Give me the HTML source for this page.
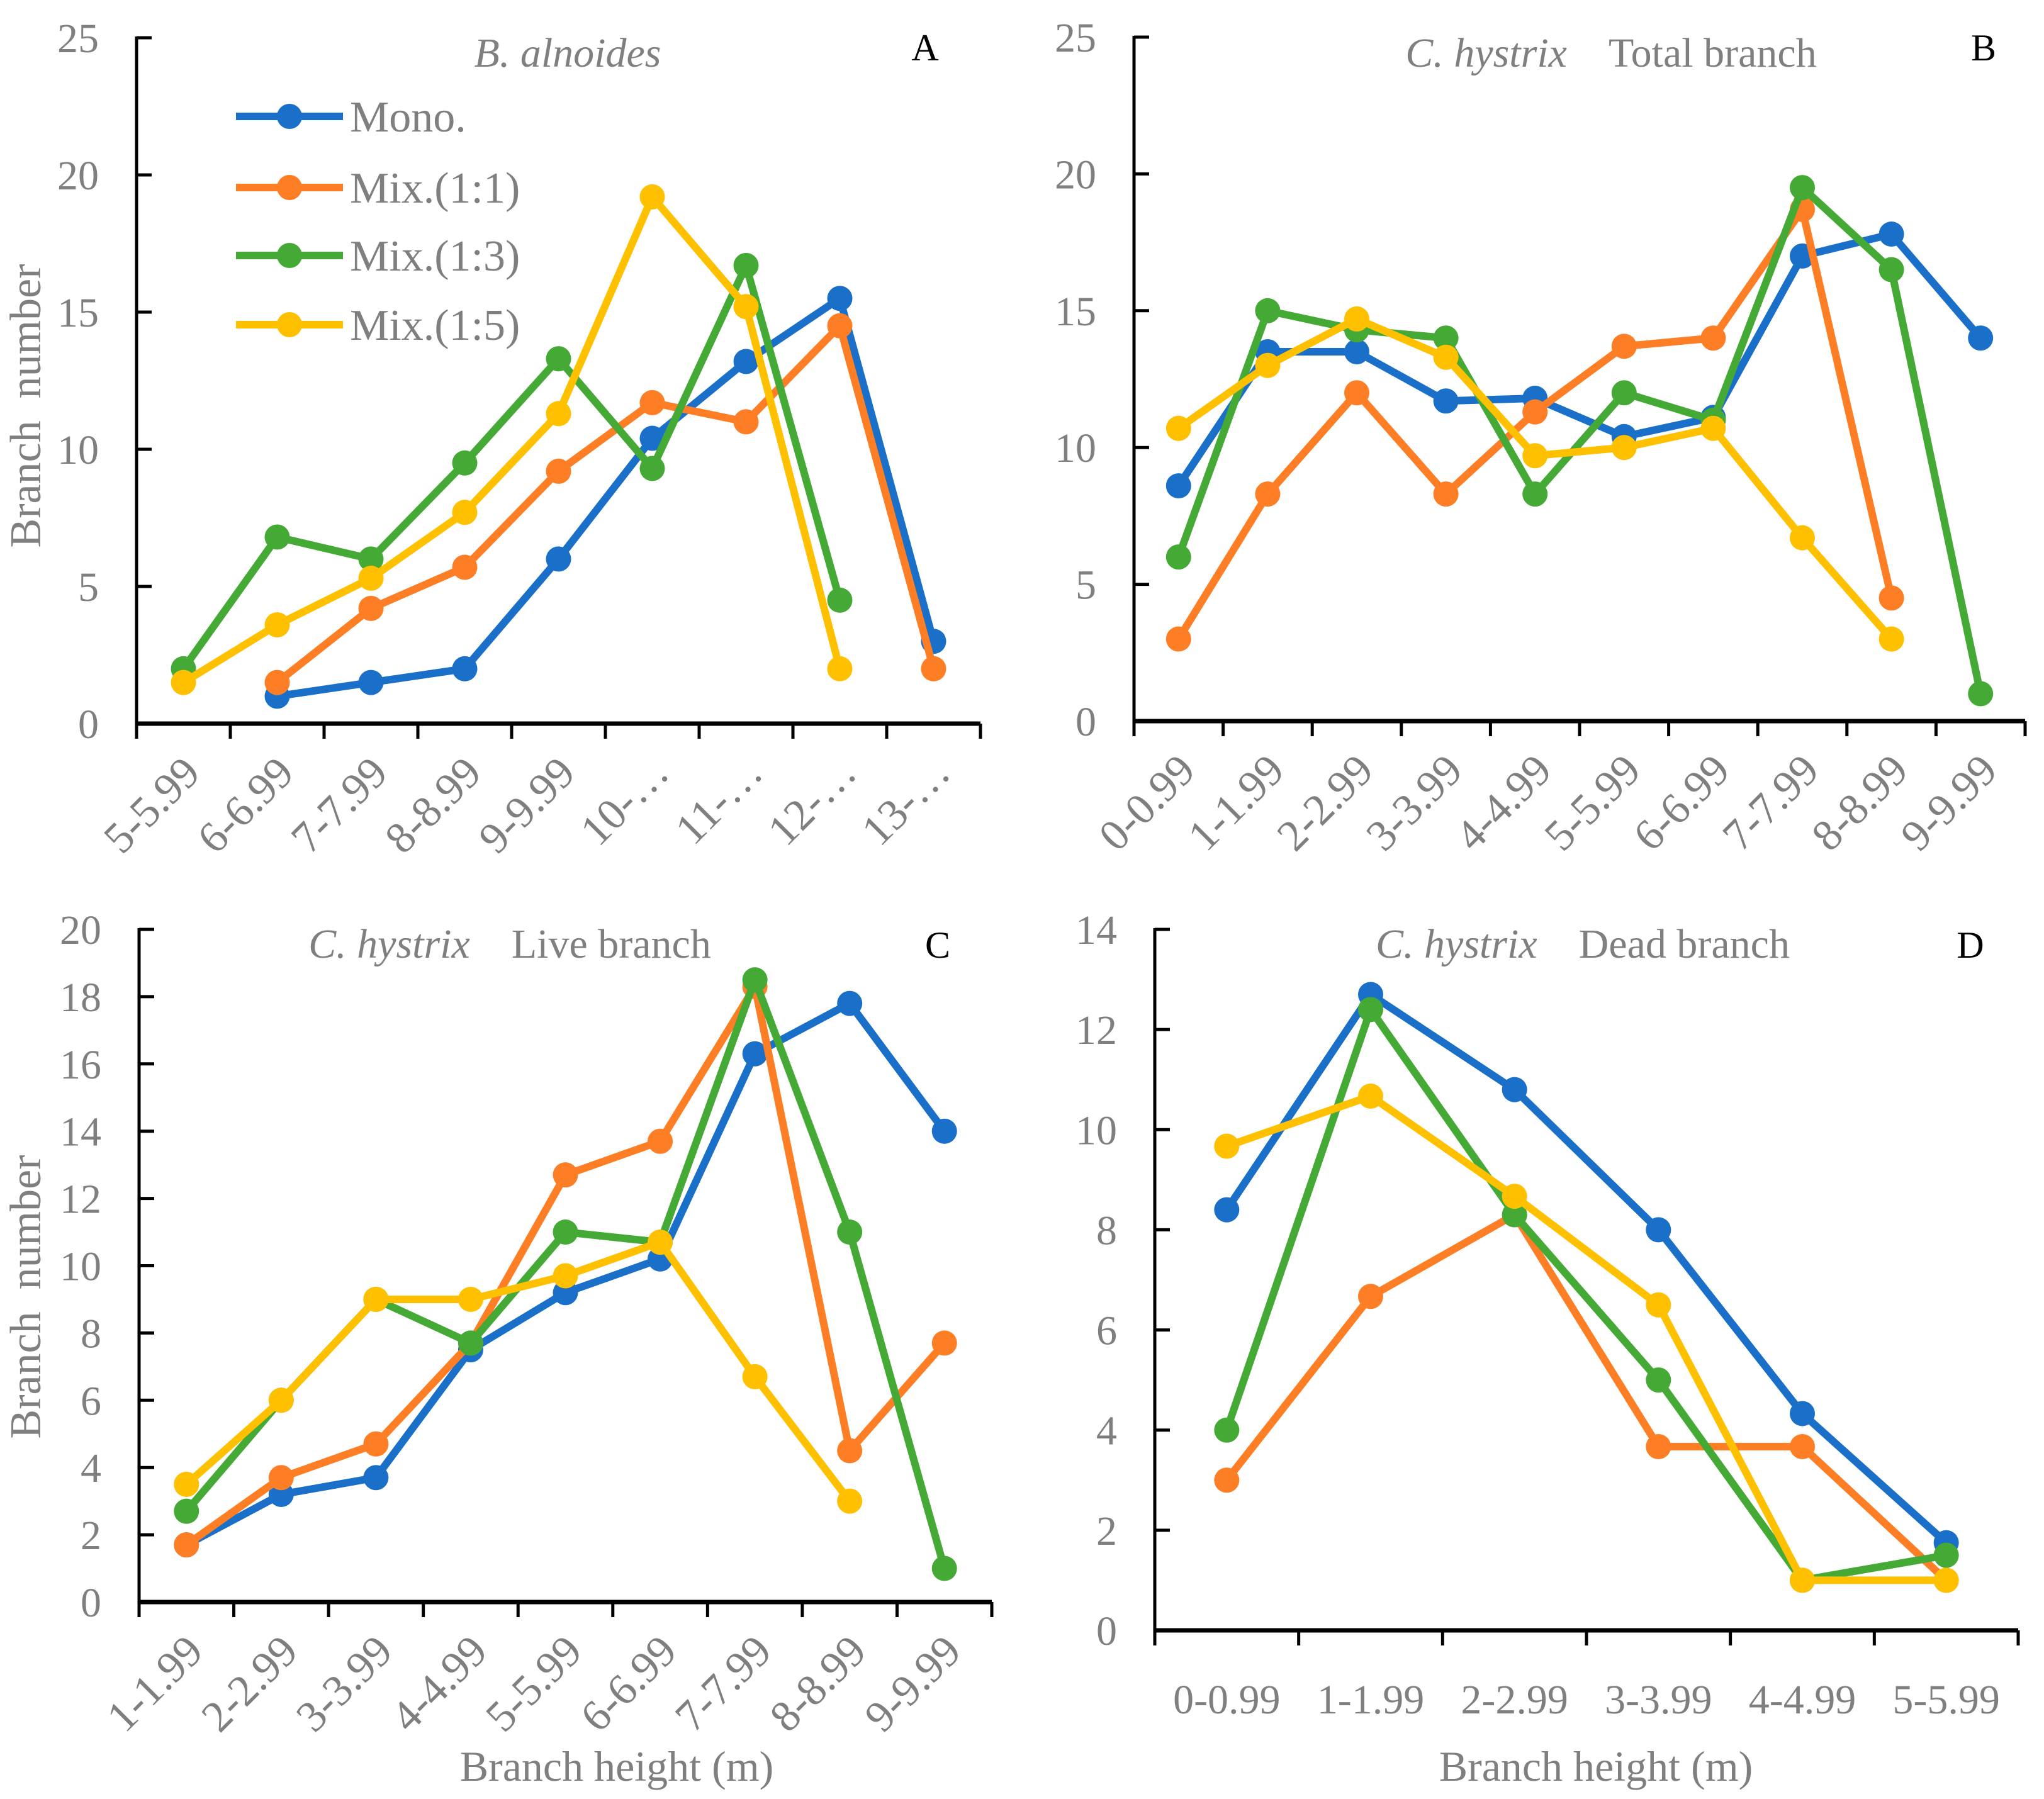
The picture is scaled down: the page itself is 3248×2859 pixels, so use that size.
<!DOCTYPE html>
<html><head><meta charset="utf-8"><style>
html,body{margin:0;padding:0;background:#fff}
svg{display:block}
text{font-family:"Liberation Serif",serif}
</style></head><body>
<svg id="fig" width="3248" height="2859" viewBox="0 0 3248 2859" xmlns="http://www.w3.org/2000/svg"></svg>
<script>
const seriesNames=["Mono.","Mix.(1:1)","Mix.(1:3)","Mix.(1:5)"];
const catsA=["5-5.99","6-6.99","7-7.99","8-8.99","9-9.99","10-…","11-…","12-…","13-…"];
const monoA=[null,1,1.5,2,6,10.4,13.2,15.5,3];
const mix11A=[null,1.5,4.2,5.7,9.2,11.7,11,14.5,2];
const mix13A=[2,6.8,6,9.5,13.3,9.3,16.7,4.5,null];
const mix15A=[1.5,3.6,5.3,7.7,11.3,19.2,15.2,2,null];
const ticksA=[0,5,10,15,20,25];
const catsB=["0-0.99","1-1.99","2-2.99","3-3.99","4-4.99","5-5.99","6-6.99","7-7.99","8-8.99","9-9.99"];
const monoB=[8.6,13.5,13.5,11.7,11.8,10.4,11.1,17,17.8,14];
const mix11B=[3,8.3,12,8.3,11.3,13.7,14,18.7,4.5,null];
const mix13B=[6,15,14.3,14,8.3,12,11,19.5,16.5,1];
const mix15B=[10.7,13,14.7,13.3,9.7,10,10.7,6.7,3,null];
const ticksB=[0,5,10,15,20,25];
const catsC=["1-1.99","2-2.99","3-3.99","4-4.99","5-5.99","6-6.99","7-7.99","8-8.99","9-9.99"];
const monoC=[1.7,3.2,3.7,7.5,9.2,10.2,16.3,17.8,14];
const mix11C=[1.7,3.7,4.7,7.7,12.7,13.7,18.3,4.5,7.7];
const mix13C=[2.7,6,9,7.7,11,10.7,18.5,11,1];
const mix15C=[3.5,6,9,9,9.7,10.7,6.7,3,null];
const ticksC=[0,2,4,6,8,10,12,14,16,18,20];
const catsD=["0-0.99","1-1.99","2-2.99","3-3.99","4-4.99","5-5.99"];
const monoD=[8.4,12.7,10.8,8,4.33,1.75];
const mix11D=[3,6.67,8.3,3.67,3.67,1];
const mix13D=[4,12.4,8.3,5,1,1.5];
const mix15D=[9.67,10.67,8.67,6.5,1,1];
const ticksD=[0,2,4,6,8,10,12,14];

const colors=["#1a70c8","#fd7e24","#45aa35","#ffc000"];
const NS="http://www.w3.org/2000/svg";
const svg=document.getElementById("fig");
function mk(tag,attrs,parent,txt){const e=document.createElementNS(NS,tag);for(const k in attrs)e.setAttribute(k,attrs[k]);if(txt!==undefined)e.textContent=txt;(parent||svg).appendChild(e);return e;}

function panel(id,cfg,cats,series,ticks){
  const g=mk("g",{});
  
  
  const {x0,x1,y0,y1,ymax}=cfg;
  const bw=(x1-x0)/cats.length;
  const xs=i=>x0+bw*(i+0.5);
  const ys=v=>y0-(v/ymax)*(y0-y1);
  ticks.forEach(t=>{
    const y=ys(t);
    const tk=mk("line",{x1:x0,x2:x0+24,y1:y,y2:y,stroke:"#000","stroke-width":5},g);
    
    
    const tl=mk("text",{x:x0-60,y:y+23,"text-anchor":"end","font-size":66,fill:"#7f7f7f"},g,String(t));
    
    
  });
  for(let i=0;i<=cats.length;i++){
    const x=x0+bw*i;
    const tk=mk("line",{x1:x,x2:x,y1:y0,y2:y0+24,stroke:"#000","stroke-width":5},g);
    
    
  }
  cats.forEach((c,i)=>{
    let t;
    if(cfg.rot){
      const ax=xs(i)+30, ay=y0+82;
      t=mk("text",{x:ax,y:ay,"text-anchor":"end","font-size":70,fill:"#7f7f7f",transform:`rotate(-45 ${ax} ${ay})`},g,c);
    }else{
      t=mk("text",{x:xs(i),y:y0+132,"text-anchor":"middle","font-size":66,fill:"#7f7f7f"},g,c);
    }
    
    
  });
  const ya=mk("line",{x1:x0,x2:x0,y1:y1-2,y2:y0+24,stroke:"#000","stroke-width":5},g);
  
  
  const xa=mk("line",{x1:x0,x2:x1,y1:y0,y2:y0,stroke:"#000","stroke-width":7},g);
  
  
  series.forEach((vals,si)=>{
    const sg=mk("g",{},g);
    
    
    let d="";let pen=false;
    vals.forEach((v,i)=>{ if(v===null){pen=false;return;} d+=(pen?"L":"M")+xs(i)+" "+ys(v)+" "; pen=true;});
    const p=mk("path",{d:d,fill:"none",stroke:colors[si],"stroke-width":12,"stroke-linejoin":"round"},sg);
    
    
    vals.forEach((v,i)=>{ if(v===null)return;
      const c=mk("circle",{cx:xs(i),cy:ys(v),r:20,fill:colors[si]},sg);
      
      
    });
  });
  return g;
}

panel("a",{x0:217,x1:1558,y0:1150,y1:60,ymax:25,rot:true},catsA,[monoA,mix11A,mix13A,mix15A],ticksA);
panel("b",{x0:1802,x1:3218,y0:1146,y1:59,ymax:25,rot:true},catsB,[monoB,mix11B,mix13B,mix15B],ticksB);
panel("c",{x0:221,x1:1576,y0:2546,y1:1477,ymax:20,rot:true},catsC,[monoC,mix11C,mix13C,mix15C],ticksC);
panel("d",{x0:1835,x1:3207,y0:2591,y1:1477,ymax:14,rot:false},catsD,[monoD,mix11D,mix13D,mix15D],ticksD);

const legY=[185,298,406,516];
seriesNames.forEach((n,i)=>{
  const lg=mk("g",{});
  
  
  mk("line",{x1:375,x2:545,y1:legY[i],y2:legY[i],stroke:colors[i],"stroke-width":12},lg);
  mk("circle",{cx:460,cy:legY[i],r:20,fill:colors[i]},lg);
  mk("text",{x:556,y:legY[i]+24,"font-size":70,fill:"#7f7f7f"},lg,n);
});

function label(txt,x,y,name,opts){
  const t=mk("text",Object.assign({x:x,y:y,"font-size":66,fill:"#7f7f7f"},opts||{}));
  t.innerHTML=txt;
  
  
  return t;
}
label('<tspan font-style="italic">B. alnoides</tspan>',902,106,'title-a',{"text-anchor":"middle"});
label('<tspan font-style="italic">C. hystrix</tspan>&#160;&#160;&#160;&#160;Total branch',2560,106,'title-b',{"text-anchor":"middle"});
label('<tspan font-style="italic">C. hystrix</tspan>&#160;&#160;&#160;&#160;Live branch',810,1522,'title-c',{"text-anchor":"middle"});
label('<tspan font-style="italic">C. hystrix</tspan>&#160;&#160;&#160;&#160;Dead branch',2515,1522,'title-d',{"text-anchor":"middle"});
label('A',1470,96,'panel-letter-a',{"text-anchor":"middle",fill:"#000","font-size":60});
label('B',3152,96,'panel-letter-b',{"text-anchor":"middle",fill:"#000","font-size":60});
label('C',1490,1522,'panel-letter-c',{"text-anchor":"middle",fill:"#000","font-size":60});
label('D',3131,1522,'panel-letter-d',{"text-anchor":"middle",fill:"#000","font-size":60});
label('Branch&#160;&#160;number',64,645,'y-axis-title-a',{"text-anchor":"middle",transform:"rotate(-90 64 645)","font-size":70});
label('Branch&#160;&#160;number',64,2061,'y-axis-title-c',{"text-anchor":"middle",transform:"rotate(-90 64 2061)","font-size":70});
label('Branch height (m)',980,2830,'x-axis-title-c',{"text-anchor":"middle","font-size":68});
label('Branch height (m)',2536,2830,'x-axis-title-d',{"text-anchor":"middle","font-size":68});
</script>
</body></html>
